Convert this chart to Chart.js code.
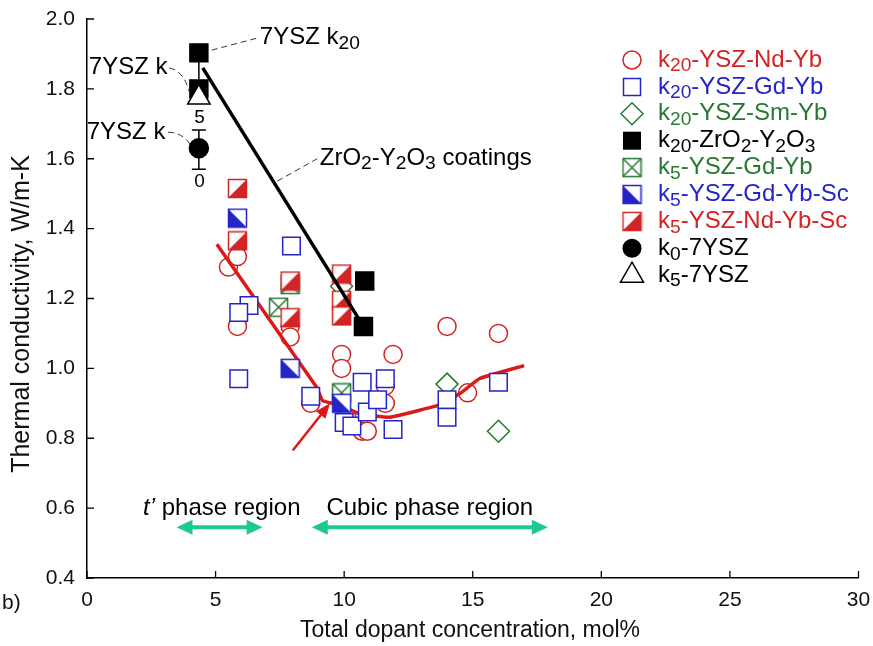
<!DOCTYPE html>
<html>
<head>
<meta charset="utf-8">
<script src="https://cdn.jsdelivr.net/npm/chart.js@4.4.0/dist/chart.umd.min.js"></script>
<style>
  body { margin: 0; background: #fff; }
  canvas { display: block; }
</style>
</head>
<body>
<canvas id="myChart" width="873" height="646"></canvas>
<script>
// thermal conductivity (W/m-K) vs total dopant (mol%)
const ndYb20  = [[5.5,1.29],[5.85,1.32],[5.85,1.12],[7.9,1.12],[7.9,1.09],[9.9,1.04],[9.9,1.00],[11.9,1.04],
                 [14.0,1.12],[16.0,1.10],[14.8,0.93],[8.7,0.90],[10.1,0.86],[10.7,0.82],[10.9,0.82],[11.6,0.90],[11.6,0.95]];
const gdYb20  = [[7.95,1.35],[6.3,1.18],[5.9,1.16],[5.9,0.97],[8.7,0.92],[10.0,0.845],[10.3,0.835],[10.7,0.96],
                 [10.9,0.875],[11.3,0.91],[11.6,0.97],[11.9,0.825],[14.0,0.91],[14.0,0.86],[16.0,0.96]];
const smYb20  = [[9.9,1.235],[14.0,0.955],[16.0,0.82]];
const zrY20   = [[4.35,1.903],[4.35,1.80],[10.8,1.25],[10.75,1.12]];
const gdYb5   = [[7.45,1.175],[7.9,1.24],[9.9,0.93]];
const gdYbSc5 = [[5.85,1.43],[7.9,1.00],[9.9,0.90]];
const ndYbSc5 = [[5.85,1.515],[5.85,1.365],[7.9,1.25],[7.9,1.145],[9.9,1.27],[9.9,1.195],[9.9,1.15]];
const ysz0    = [[4.35,1.63]];
const ysz5    = [[4.35,1.775]];

const coatingLine = [[4.5,1.86],[10.75,1.12]];
const trendLine = [[5.05,1.355],[8.93,0.946],[9.16,0.908],[9.8,0.895],[10.6,0.87],[11.77,0.86],
                   [13.64,0.894],[14.5,0.928],[15.27,0.971],[17.0,1.008]];
const trendArrow = [[8.0,0.765],[9.45,0.90]];
const tPhase = [3.48, 6.83];
const cubicPhase = [8.74, 17.92];
const phaseY = 0.545;
const errBar = {x: 4.35, top: 1.90, mid: 1.80, caps: [1.682, 1.570]};

const xTicks = [0,5,10,15,20,25,30];
const yTicks = [0.4,0.6,0.8,1.0,1.2,1.4,1.6,1.8,2.0];

const RED = 'rgb(210,36,36)', BLUE = 'rgb(36,36,200)', GREEN = 'rgb(40,120,50)', TEAL = 'rgb(30,200,150)';
const FONT = '"Liberation Sans", Arial, sans-serif';
const FS = 24;

function pts(a){ return a.map(p => ({x: p[0], y: p[1]})); }

function halfSquare(color, corner){
  const s = 21, c = document.createElement('canvas');
  c.width = s; c.height = s;
  const g = c.getContext('2d'), a = 1.5, b = s - 1.5;
  g.fillStyle = '#fff'; g.fillRect(a, a, b - a, b - a);
  g.fillStyle = color; g.beginPath();
  if (corner == 'br'){ g.moveTo(b,a); g.lineTo(b,b); g.lineTo(a,b); }
  else { g.moveTo(a,a); g.lineTo(a,b); g.lineTo(b,b); }
  g.closePath(); g.fill();
  g.strokeStyle = color; g.lineWidth = 1.5; g.strokeRect(a, a, b - a, b - a);
  return c;
}
function crossSquare(color){
  const s = 21, c = document.createElement('canvas');
  c.width = s; c.height = s;
  const g = c.getContext('2d'), a = 1.5, b = s - 1.5;
  g.fillStyle = '#fff'; g.fillRect(a, a, b - a, b - a);
  g.strokeStyle = color; g.lineWidth = 1.5;
  g.strokeRect(a, a, b - a, b - a);
  g.beginPath(); g.moveTo(a,a); g.lineTo(b,b); g.moveTo(b,a); g.lineTo(a,b); g.stroke();
  return c;
}
const redHalf = halfSquare(RED, 'br');
const blueHalf = halfSquare(BLUE, 'bl');
const greenCross = crossSquare(GREEN);

// legend rows: [label parts, colour, marker]
const legendRows = [
  [[['k'],['20',1],['-YSZ-Nd-Yb']], RED, 'circle'],
  [[['k'],['20',1],['-YSZ-Gd-Yb']], BLUE, 'rect'],
  [[['k'],['20',1],['-YSZ-Sm-Yb']], GREEN, 'diamond'],
  [[['k'],['20',1],['-ZrO'],['2',1],['-Y'],['2',1],['O'],['3',1]], '#000', 'fillrect'],
  [[['k'],['5',1],['-YSZ-Gd-Yb']], GREEN, greenCross],
  [[['k'],['5',1],['-YSZ-Gd-Yb-Sc']], BLUE, blueHalf],
  [[['k'],['5',1],['-YSZ-Nd-Yb-Sc']], RED, redHalf],
  [[['k'],['0',1],['-7YSZ']], '#000', 'fillcircle'],
  [[['k'],['5',1],['-7YSZ']], '#000', 'triangle']
];

function drawRich(ctx, x, y, parts, size, color, align){
  ctx.save();
  ctx.fillStyle = color; ctx.textBaseline = 'middle'; ctx.textAlign = 'left';
  const fnt = p => (p[2] ? 'italic ' : '') + (p[1] ? size * 0.8 : size) + 'px ' + FONT;
  let w = 0;
  parts.forEach(p => { ctx.font = fnt(p); w += ctx.measureText(p[0]).width; });
  let cx = align == 'center' ? x - w / 2 : align == 'right' ? x - w : x;
  parts.forEach(p => {
    ctx.font = fnt(p);
    ctx.fillText(p[0], cx, p[1] ? y + size * 0.25 : y);
    cx += ctx.measureText(p[0]).width;
  });
  ctx.restore();
}

function drawMarker(ctx, m, x, y, color){
  ctx.save();
  ctx.strokeStyle = color; ctx.fillStyle = '#fff'; ctx.lineWidth = 1.5;
  ctx.beginPath();
  if (typeof m != 'string'){ ctx.drawImage(m, x - m.width/2, y - m.height/2); ctx.restore(); return; }
  if (m == 'circle'){ ctx.arc(x, y, 9, 0, Math.PI*2); ctx.fill(); ctx.stroke(); }
  if (m == 'rect'){ ctx.rect(x-8.5, y-8.5, 17, 17); ctx.fill(); ctx.stroke(); }
  if (m == 'diamond'){ ctx.moveTo(x, y-11); ctx.lineTo(x+11, y); ctx.lineTo(x, y+11); ctx.lineTo(x-11, y); ctx.closePath(); ctx.fill(); ctx.stroke(); }
  if (m == 'fillrect'){ ctx.fillStyle = '#000'; ctx.fillRect(x-9, y-9, 18, 18); }
  if (m == 'fillcircle'){ ctx.fillStyle = '#000'; ctx.arc(x, y, 9.5, 0, Math.PI*2); ctx.fill(); }
  if (m == 'triangle'){ ctx.moveTo(x, y-13); ctx.lineTo(x+11.5, y+7); ctx.lineTo(x-11.5, y+7); ctx.closePath(); ctx.fill(); ctx.stroke(); }
  ctx.restore();
}

function arrowHead(ctx, fx, fy, tx, ty, len, half){
  const a = Math.atan2(ty - fy, tx - fx);
  ctx.beginPath();
  ctx.moveTo(tx, ty);
  ctx.lineTo(tx - len*Math.cos(a) + half*Math.sin(a), ty - len*Math.sin(a) - half*Math.cos(a));
  ctx.lineTo(tx - len*Math.cos(a) - half*Math.sin(a), ty - len*Math.sin(a) + half*Math.cos(a));
  ctx.closePath(); ctx.fill();
}

const annot = {
  id: 'annot',
  beforeDatasetsDraw(chart){
    const {ctx, scales: {x, y}} = chart;
    const px = v => x.getPixelForValue(v), py = v => y.getPixelForValue(v);
    // error bar on 7YSZ, behind the markers
    ctx.save();
    ctx.strokeStyle = '#000'; ctx.lineWidth = 1.5;
    ctx.beginPath();
    ctx.moveTo(px(errBar.x), py(errBar.top)); ctx.lineTo(px(errBar.x), py(errBar.mid));
    ctx.moveTo(px(errBar.x), py(errBar.caps[0])); ctx.lineTo(px(errBar.x), py(errBar.caps[1]));
    errBar.caps.forEach(c => { ctx.moveTo(px(errBar.x) - 7, py(c)); ctx.lineTo(px(errBar.x) + 7, py(c)); });
    ctx.stroke();
    ctx.restore();
  },
  afterDraw(chart){
    const {ctx, chartArea: ca, scales: {x, y}} = chart;
    const px = v => x.getPixelForValue(v), py = v => y.getPixelForValue(v);
    ctx.save();
    // inside ticks
    ctx.strokeStyle = '#000'; ctx.lineWidth = 1.3;
    ctx.beginPath();
    yTicks.forEach(t => { ctx.moveTo(ca.left, py(t)); ctx.lineTo(ca.left + 7, py(t)); });
    xTicks.forEach(t => { ctx.moveTo(px(t), ca.bottom); ctx.lineTo(px(t), ca.bottom - 7); });
    ctx.stroke();

    drawRich(ctx, px(4.38), py(1.716), [['5']], 19, '#000', 'center');
    drawRich(ctx, px(4.38), py(1.535), [['0']], 19, '#000', 'center');

    // dashed leaders and labels
    ctx.setLineDash([6, 4]); ctx.lineWidth = 1; ctx.strokeStyle = '#333';
    ctx.beginPath();
    ctx.moveTo(px(4.85), py(1.911)); ctx.lineTo(px(6.65), py(1.946));
    ctx.moveTo(px(3.2), py(1.86)); ctx.quadraticCurveTo(px(3.8), py(1.85), px(4.0), py(1.785));
    ctx.moveTo(px(3.15), py(1.676)); ctx.quadraticCurveTo(px(3.7), py(1.675), px(4.0), py(1.642));
    ctx.moveTo(px(7.4), py(1.536)); ctx.lineTo(px(8.95), py(1.6));
    ctx.stroke();
    ctx.setLineDash([]);
    drawRich(ctx, px(6.72), py(1.946), [['7YSZ k'],['20',1]], FS, '#000', 'left');
    drawRich(ctx, px(3.13), py(1.862), [['7YSZ k']], FS, '#000', 'right');
    drawRich(ctx, px(3.05), py(1.676), [['7YSZ k']], FS, '#000', 'right');
    drawRich(ctx, px(9.05), py(1.602), [['ZrO'],['2',1],['-Y'],['2',1],['O'],['3',1],[' coatings']], FS, '#000', 'left');

    // red arrow toward the minimum
    const a0 = trendArrow[0], a1 = trendArrow[1];
    ctx.strokeStyle = 'rgb(220,25,25)'; ctx.fillStyle = 'rgb(220,25,25)'; ctx.lineWidth = 2.5;
    ctx.beginPath(); ctx.moveTo(px(a0[0]), py(a0[1]));
    const ang = Math.atan2(py(a1[1]) - py(a0[1]), px(a1[0]) - px(a0[0]));
    ctx.lineTo(px(a1[0]) - 10*Math.cos(ang), py(a1[1]) - 10*Math.sin(ang)); ctx.stroke();
    arrowHead(ctx, px(a0[0]), py(a0[1]), px(a1[0]), py(a1[1]), 15, 6);

    // phase region arrows
    ctx.strokeStyle = TEAL; ctx.fillStyle = TEAL; ctx.lineWidth = 4;
    [tPhase, cubicPhase].forEach(r => {
      const l = px(r[0]), rr = px(r[1]), yy = py(phaseY);
      ctx.beginPath(); ctx.moveTo(l + 10, yy); ctx.lineTo(rr - 10, yy); ctx.stroke();
      arrowHead(ctx, rr, yy, l, yy, 16, 7.5);
      arrowHead(ctx, l, yy, rr, yy, 16, 7.5);
    });
    drawRich(ctx, px(5.24), py(0.599), [['t',0,1],['\u2019',0,1],[' phase region']], FS, '#000', 'center');
    drawRich(ctx, px(13.33), py(0.599), [['Cubic phase region']], FS, '#000', 'center');

    // legend
    legendRows.forEach((r, i) => {
      const ly = 60 + i * 26.9;
      drawMarker(ctx, r[2], 632, ly, r[1]);
      drawRich(ctx, 658, ly, r[0], FS, r[1], 'left');
    });

    // axis titles
    drawRich(ctx, 470, 631, [['Total dopant concentration, mol%']], 23, '#111', 'center');
    ctx.save(); ctx.translate(22, 314); ctx.rotate(-Math.PI/2);
    drawRich(ctx, 0, 0, [['Thermal conductivity, W/m-K']], 25, '#111', 'center');
    ctx.restore();
    drawRich(ctx, 2, 603, [['b)']], 21, '#111', 'left');
    ctx.restore();
  }
};

function sc(data, style, radius, border, bg, order){
  return {data: pts(data), pointStyle: style, pointRadius: radius, pointHoverRadius: radius,
          borderColor: border, backgroundColor: bg, pointBorderWidth: 1.5, borderWidth: 1.5,
          showLine: false, order: order, clip: false};
}

const config = {
  type: 'scatter',
  data: {
    datasets: [
      sc(ysz5, 'triangle', 13, '#000', '#fff', 1),
      sc(ysz0, 'circle', 9.5, '#000', '#000', 1),
      sc(zrY20, 'rect', 12.7, '#000', '#000', 2),
      {data: pts(coatingLine), showLine: true, borderColor: '#000', borderWidth: 3.5, pointRadius: 0, order: 3},
      sc(ndYbSc5, redHalf, 10, RED, '#fff', 4),
      sc(gdYbSc5, blueHalf, 10, BLUE, '#fff', 4),
      sc(gdYb5, greenCross, 10, GREEN, '#fff', 5),
      sc(gdYb20, 'rect', 12.4, BLUE, '#fff', 6),
      sc(smYb20, 'rectRot', 11, GREEN, '#fff', 7),
      {data: pts(trendLine), showLine: true, borderColor: 'rgb(220,25,25)', borderWidth: 3.5, pointRadius: 0,
       tension: 0.1, order: 8},
      sc(ndYb20, 'circle', 9, RED, '#fff', 9)
    ]
  },
  options: {
    responsive: false,
    animation: false,
    devicePixelRatio: 1,
    layout: {padding: {top: 19, right: 14, left: 0, bottom: 0}},
    plugins: {legend: {display: false}, tooltip: {enabled: false}},
    scales: {
      x: {
        min: 0, max: 30,
        grid: {display: false, drawTicks: false},
        border: {color: '#000', width: 1.5},
        ticks: {stepSize: 5, padding: 10, color: '#111', font: {size: 21, family: FONT}},
        afterFit: s => { s.height = 68; s.paddingLeft = 0; s.paddingRight = 0; }
      },
      y: {
        min: 0.4, max: 2.0,
        grid: {display: false, drawTicks: false},
        border: {color: '#000', width: 1.5},
        ticks: {stepSize: 0.2, padding: 12, color: '#111', font: {size: 21, family: FONT},
                callback: v => v.toFixed(1)},
        afterFit: s => { s.width = 87; s.paddingTop = 0; s.paddingBottom = 0; }
      }
    }
  },
  plugins: [annot]
};

const myChart = new Chart(document.getElementById('myChart'), config);
</script>
</body>
</html>
